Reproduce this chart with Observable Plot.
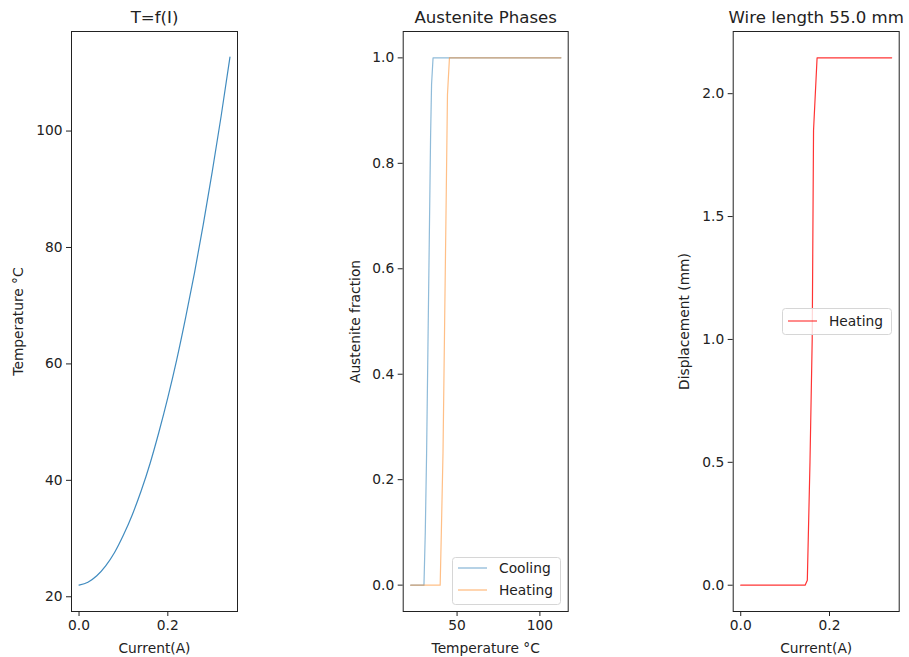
<!DOCTYPE html>
<html><head><meta charset="utf-8">
<script src="https://cdn.jsdelivr.net/npm/d3@7"></script>
<script src="https://cdn.jsdelivr.net/npm/@observablehq/plot@0.6"></script>
<style>
body{margin:0;background:#fff;font-family:"DejaVu Sans",sans-serif;color:#222}
#wrap{position:relative;width:909px;height:657px;overflow:hidden;background:#fff}
.panel{position:absolute;top:0}
#leg{position:absolute;left:0;top:0}
</style>
</head><body>
<div id="wrap"></div>
<script>
// ---- Data ----
// Panel 1: T = f(I)
const currentA = [0, 0.02, 0.04, 0.06, 0.08, 0.10, 0.12, 0.14, 0.16, 0.18, 0.20, 0.22, 0.24, 0.26, 0.28, 0.30, 0.32, 0.34];
const temperatureC = [22.0, 22.5, 23.6, 25.3, 27.6, 30.6, 34.1, 38.2, 42.9, 48.3, 54.2, 60.7, 67.9, 75.6, 84.0, 93.0, 102.5, 112.7];
// Panel 2: Austenite phases
const coolingT = [22, 30.0, 30.8, 31.6, 32.4, 33.2, 34.0, 34.6, 35.5, 112.7];
const coolingFrac = [0, 0, 0.1, 0.25, 0.45, 0.65, 0.85, 0.95, 1, 1];
const heatingT = [22, 39.8, 40.5, 41.5, 42.5, 43.5, 44.2, 45.4, 112.7];
const heatingFrac = [0, 0, 0.1, 0.25, 0.5, 0.75, 0.93, 1, 1];
// Panel 3: displacement
const dispCurrent = [0, 0.145, 0.150, 0.156, 0.161, 0.164, 0.172, 0.34];
const displacementMm = [0, 0, 0.02, 0.5, 1.0, 1.85, 2.146, 2.146];
// Tick labels
const p1XTicks = [0, 0.2];
const p1YTicks = [20, 40, 60, 80, 100];
const p2XTicks = [50, 100];
const p2YTicks = [0, 0.2, 0.4, 0.6, 0.8, 1.0];
const p3XTicks = [0, 0.2];
const p3YTicks = [0, 0.5, 1.0, 1.5, 2.0];
const titles = ["T=f(I)", "Austenite Phases", "Wire length 55.0 mm"];

const wrap = document.getElementById("wrap");
const FONT = "'DejaVu Sans', sans-serif";
const INK = "#222";

function panel({left, width, mL, mR, xDomain, yDomain, xTicks, yTicks, xFmt, yFmt, xLabel, yLabel, yLabelOffset, title, marks}) {
  const p = Plot.plot({
    width, height: 657,
    marginLeft: mL, marginRight: mR, marginTop: 31, marginBottom: 46,
    style: {fontFamily: FONT, fontSize: "13.8px", color: INK, background: "transparent", overflow: "visible"},
    x: {domain: xDomain, ticks: xTicks, tickFormat: xFmt, label: xLabel, labelAnchor: "center", labelArrow: "none", labelOffset: 41, tickSize: 5, tickPadding: 4},
    y: {domain: yDomain, ticks: yTicks, tickFormat: yFmt, label: yLabel, labelAnchor: "center", labelArrow: "none", labelOffset: yLabelOffset, tickSize: 5, tickPadding: 4},
    marks: [
      ...marks,
      Plot.frame({stroke: INK, strokeWidth: 1}),
      Plot.text([title], {frameAnchor: "top", dy: -13.5, lineAnchor: "middle", fontSize: 16.6, fill: INK})
    ]
  });
  p.classList.add("panel");
  p.style.left = left + "px";
  wrap.appendChild(p);
}

const f1 = d3.format(".1f");

panel({
  left: 0, width: 300, mL: 71, mR: 63,
  xDomain: [-0.017, 0.357], yDomain: [17.47, 117.1],
  xTicks: p1XTicks, yTicks: p1YTicks, xFmt: f1, yFmt: d3.format("d"),
  xLabel: "Current(A)", yLabel: "Temperature °C", yLabelOffset: 58, title: titles[0],
  marks: [Plot.line(currentA.map((c, i) => ({c, t: temperatureC[i]})), {x: "c", y: "t", curve: "monotone-x", stroke: "#1f77b4", strokeOpacity: 0.85, strokeWidth: 1.2})]
});

panel({
  left: 300, width: 300, mL: 102.7, mR: 32.3,
  xDomain: [17.47, 117.1], yDomain: [-0.05, 1.05],
  xTicks: p2XTicks, yTicks: p2YTicks, xFmt: d3.format("d"), yFmt: f1,
  xLabel: "Temperature °C", yLabel: "Austenite fraction", yLabelOffset: 53, title: titles[1],
  marks: [
    Plot.line(coolingT.map((t, i) => ({t, f: coolingFrac[i]})), {x: "t", y: "f", stroke: "#1f77b4", strokeOpacity: 0.5, strokeWidth: 1.2}),
    Plot.line(heatingT.map((t, i) => ({t, f: heatingFrac[i]})), {x: "t", y: "f", stroke: "#ff7f0e", strokeOpacity: 0.5, strokeWidth: 1.2})
  ]
});

panel({
  left: 600, width: 309, mL: 132.7, mR: 10.3,
  xDomain: [-0.017, 0.357], yDomain: [-0.107, 2.253],
  xTicks: p3XTicks, yTicks: p3YTicks, xFmt: f1, yFmt: f1,
  xLabel: "Current(A)", yLabel: "Displacement (mm)", yLabelOffset: 54, title: titles[2],
  marks: [Plot.line(dispCurrent.map((c, i) => ({c, d: displacementMm[i]})), {x: "c", y: "d", stroke: "red", strokeOpacity: 0.8, strokeWidth: 1.2})]
});

// Legends (overlay SVG)
const leg = d3.select(wrap).append("svg").attr("id", "leg").attr("width", 909).attr("height", 657)
  .style("font-family", FONT).style("font-size", "13.8px");
function legend(box, items) {
  leg.append("rect").attr("x", box[0] + 0.5).attr("y", box[1] + 0.5).attr("width", box[2]).attr("height", box[3])
    .attr("rx", 3).attr("fill", "white").attr("fill-opacity", 0.8).attr("stroke", "#d6d6d6");
  for (const it of items) {
    leg.append("line").attr("x1", it.x).attr("x2", it.x + 29).attr("y1", it.y).attr("y2", it.y)
      .attr("stroke", it.color).attr("stroke-opacity", it.op).attr("stroke-width", 1.3);
    leg.append("text").attr("x", it.x + 41).attr("y", it.y).attr("dy", "0.35em").attr("fill", INK).text(it.label);
  }
}
legend([452, 557, 108, 47], [
  {label: "Cooling", color: "#1f77b4", op: 0.5, x: 458, y: 568},
  {label: "Heating", color: "#ff7f0e", op: 0.5, x: 458, y: 590}
]);
legend([782, 308, 109, 26], [
  {label: "Heating", color: "#ff0000", op: 0.7, x: 788, y: 321}
]);
</script>
</body></html>
